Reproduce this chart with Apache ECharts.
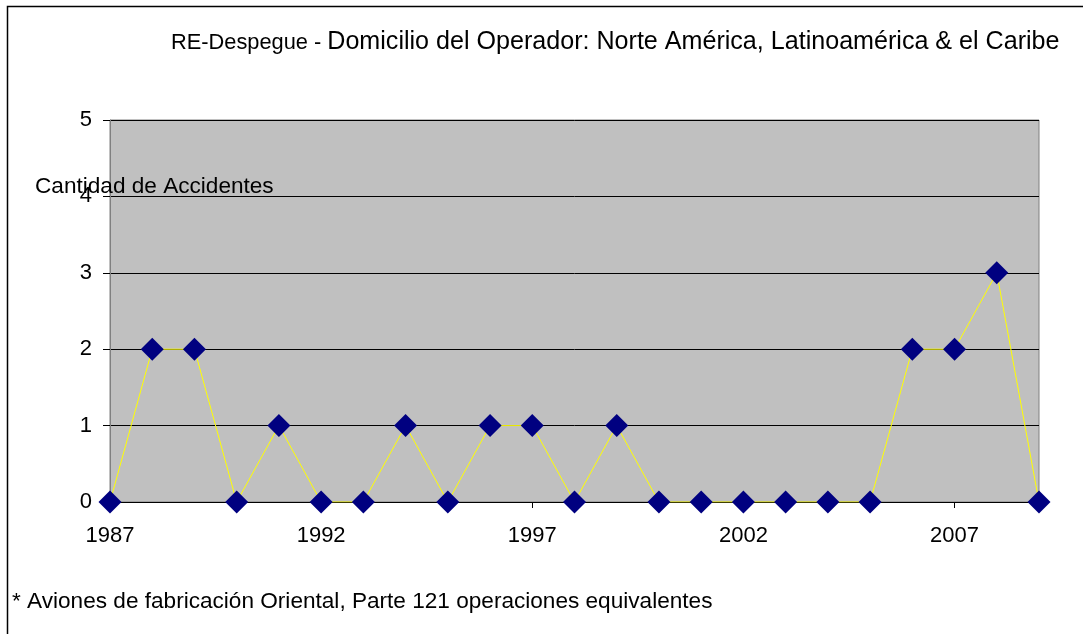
<!DOCTYPE html>
<html>
<head>
<meta charset="utf-8">
<script src="https://cdn.jsdelivr.net/npm/echarts@6/dist/echarts.min.js"></script>
<style>
  html, body { margin: 0; padding: 0; background: #fff; }
  #chart { width: 1083px; height: 634px; }
</style>
</head>
<body>
<div id="chart"></div>
<script>
// Data
const years = ['1987', '1988', '1989', '1990', '1991', '1992', '1993', '1994', '1995', '1996', '1997', '1998',
    '1999', '2000', '2001', '2002', '2003', '2004', '2005', '2006', '2007', '2008', '2009'];
const accidents = [0, 2, 2, 0, 1, 0, 0, 1, 0, 1, 1, 0, 1, 0, 0, 0, 0, 0, 0, 2, 2, 3, 0];
const yTicks = [0, 1, 2, 3, 4, 5];

const titleSmall = 'RE-Despegue - ';
const titleBig = 'Domicilio del Operador: Norte América, Latinoamérica & el Caribe';
const yName = 'Cantidad de Accidentes';
const footnote = '* Aviones de fabricación Oriental, Parte 121 operaciones equivalentes';

const font = '"Liberation Sans", Arial, sans-serif';

const chart = echarts.init(document.getElementById('chart'));
chart.setOption({
    animation: false,
    backgroundColor: '#fff',
    textStyle: { fontFamily: font },
    title: {
        left: 166,
        top: 25,
        text: `{s|${titleSmall}}{b|${titleBig}}`,
        textStyle: {
            fontWeight: 'normal',
            rich: {
                s: { fontSize: 21.8, color: '#000', fontFamily: font, fontWeight: 'normal' },
                b: { fontSize: 25.1, color: '#000', fontFamily: font, fontWeight: 'normal' },
            },
        },
    },
    grid: {
        left: 110, right: 44, top: 120, bottom: 132,
        show: true,
        backgroundColor: '#C0C0C0',
        borderColor: '#808080',
        borderWidth: 1,
    },
    xAxis: {
        type: 'category',
        data: years,
        boundaryGap: false,
        axisLine: { lineStyle: { color: '#000', width: 1 } },
        axisTick: { show: true, interval: 4, length: 6, lineStyle: { color: '#000' } },
        axisLabel: { interval: 4, color: '#000', fontSize: 22, margin: 23, fontFamily: font },
        splitLine: { show: false },
    },
    yAxis: {
        type: 'value',
        min: yTicks[0],
        max: yTicks[yTicks.length - 1],
        interval: 1,
        axisLine: { show: true, lineStyle: { color: '#808080', width: 1 } },
        axisTick: { show: true, length: 7, lineStyle: { color: '#000' } },
        axisLabel: { color: '#000', fontSize: 22, margin: 18, fontFamily: font },
        splitLine: { show: true, lineStyle: { color: '#000', width: 1 } },
    },
    series: [{
        type: 'line',
        data: accidents,
        symbol: 'diamond',
        symbolSize: 23,
        itemStyle: { color: '#000080' },
        lineStyle: { color: '#FFFF00', width: 1 },
        z: 3,
    }],
    graphic: [
        {
            type: 'rect',
            left: 5, top: 4,
            shape: { width: 1200, height: 800 },
            style: { fill: 'none', stroke: '#000', lineWidth: 1.5 },
            silent: true,
            z: 0,
        },
        {
            type: 'text',
            left: 35, top: 175,
            style: { text: yName, fontSize: 22.6, fill: '#000', fontFamily: font },
            z: 10,
        },
        {
            type: 'text',
            left: 12, top: 590,
            style: { text: footnote, fontSize: 22.6, fill: '#000', fontFamily: font },
            z: 10,
        },
    ],
});
</script>
</body>
</html>
